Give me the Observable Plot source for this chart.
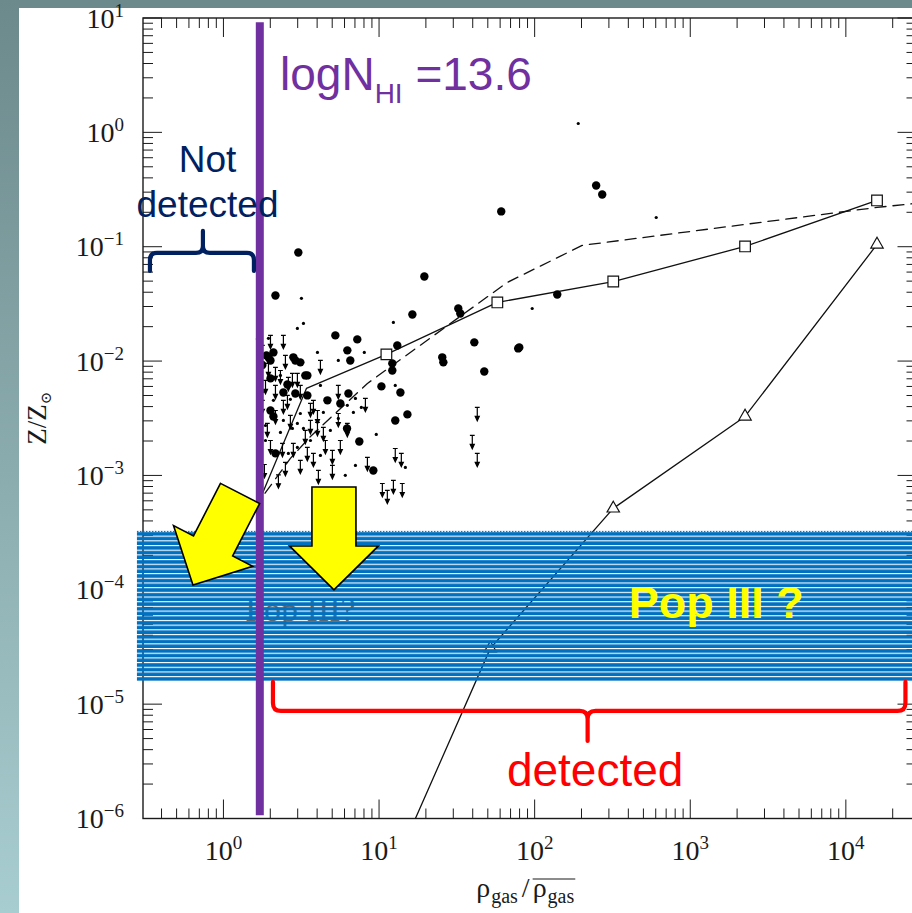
<!DOCTYPE html>
<html>
<head>
<meta charset="utf-8">
<script src="https://cdn.jsdelivr.net/npm/d3@7"></script>
<script src="https://cdn.jsdelivr.net/npm/@observablehq/plot@0.6"></script>
<style>
  html, body { margin: 0; padding: 0; width: 912px; height: 913px; overflow: hidden; background: #ffffff; }
  #band-top { position: absolute; left: 0; top: 0; width: 912px; height: 8px; background: #6c898b; }
  #band-left { position: absolute; left: 0; top: 0; width: 19px; height: 913px; background: linear-gradient(#6c898b, #a8cdd0); }
  #chart { position: absolute; left: 0; top: 0; }
</style>
</head>
<body>
<div id="band-top"></div>
<div id="band-left"></div>
<div id="chart"></div>
<script>
// ---------------------------------------------------------------
// Metallicity vs. gas overdensity. All values are log10:
//   logRho = log10(rho_gas / <rho_gas>),  logZ = log10(Z / Zsun)
// ---------------------------------------------------------------

// Simulation track with open squares (first two vertices carry no marker)
const squareLogRho = [0.202, 0.530, 1.044, 1.757, 2.502, 3.349, 4.197];
const squareLogZ   = [-3.301, -2.235, -1.937, -1.483, -1.300, -0.993, -0.591];

// Simulation track with open triangles
const triangleLogRho = [1.044, 1.712, 2.502, 3.349, 4.197];
const triangleLogZ   = [-6.572, -4.508, -3.284, -2.480, -0.976];

// Dashed model curve
const dashedLogRho = [0.202, 0.254, 0.427, 0.556, 0.922, 1.821, 2.302, 4.197, 4.480];
const dashedLogZ   = [-3.284, -3.170, -2.847, -2.655, -2.191, -1.308, -0.984, -0.652, -0.612];

// Absorbers: measured metallicities (large dots), [logRho, logZ]
const measured = [
  [0.478,-1.046],[1.782,-0.687],[2.392,-0.460],[2.431,-0.539],[2.142,-1.413],[1.898,-1.876],
  [1.288,-1.256],[1.211,-1.588],[1.506,-1.536],[1.519,-1.579],[1.114,-1.859],[1.082,-2.016],
  [1.082,-2.078],[1.609,-1.832],[1.891,-1.885],[1.403,-1.963],[1.410,-2.007],[1.673,-2.087],
  [1.012,-2.217],[1.134,-2.270],[1.179,-2.462],[1.101,-2.515],[0.870,-2.699],[0.960,-2.952],
  [0.857,-1.806],[0.793,-1.902],[0.812,-1.990],[0.800,-2.279],[0.716,-1.771],[0.331,-1.422],
  [0.273,-1.946],[0.318,-1.920],[0.299,-1.990],[0.446,-1.963],[0.491,-2.007],[0.536,-2.121],
  [0.299,-2.147],[0.459,-2.279],[0.536,-2.296],[0.665,-2.339],[0.748,-2.366],[0.299,-2.428],
  [0.331,-2.803],[0.382,-2.270],[0.791,-2.585],[0.247,-2.030],[0.286,-1.963],[0.459,-1.990],
  [0.523,-2.121],[0.318,-2.480],[0.408,-2.200]
];

// Absorbers: weak measurements (small dots)
const weak = [
  [2.277,0.082],[2.778,-0.740],[1.981,-1.536],[1.089,-1.658],[0.902,-1.920],[1.101,-2.209],
  [0.979,-2.637],[0.845,-2.908],[1.166,-2.926],[0.883,-2.401],[0.832,-2.445],[0.793,-2.383],
  [0.845,-2.322],[0.498,-1.447],[0.511,-1.666],[0.472,-1.710],[0.286,-1.797],[0.601,-1.920],
  [0.735,-1.990],[0.318,-2.339],[0.491,-2.454],[0.639,-2.445],[0.735,-2.497],[0.382,-2.515],
  [0.472,-2.541],[0.511,-2.585],[0.440,-2.585],[0.472,-2.751],[0.414,-2.803],[0.267,-2.559],
  [0.363,-2.121],[0.620,-2.209],[0.684,-2.602],[0.780,-2.995],[0.267,-2.690],[0.363,-2.620],
  [0.556,-2.690],[0.620,-2.821],[0.427,-2.330],[0.254,-2.260]
];

// Absorbers: upper limits (downward arrows)
const upperLimits = [
  [0.382,-1.771],[0.620,-1.990],[0.472,-2.104],[0.286,-2.016],[0.331,-2.051],[0.363,-2.078],
  [0.414,-2.139],[0.440,-2.104],[0.735,-2.209],[0.575,-2.339],[0.382,-2.339],[0.556,-2.366],
  [0.601,-2.428],[0.735,-2.454],[0.279,-2.541],[0.601,-2.532],[0.639,-2.576],[0.793,-2.541],
  [0.556,-2.515],[0.376,-2.716],[0.446,-2.716],[0.536,-2.751],[0.575,-2.803],[0.697,-2.777],
  [0.491,-2.864],[0.697,-2.908],[0.909,-2.322],[1.101,-2.760],[1.140,-2.803],[0.922,-2.838],
  [1.628,-2.401],[1.596,-2.646],[1.628,-2.803],[1.018,-3.066],[1.050,-3.126],[1.089,-3.039],
  [1.146,-3.066],[0.222,-1.727],[0.247,-1.859],[0.267,-2.165],[0.247,-2.339],[0.395,-1.946],
  [0.491,-2.209],[0.748,-2.690],[0.299,-1.771],[0.331,-2.209],[0.408,-2.296],[0.331,-2.428],
  [0.427,-2.471],[0.299,-2.690],[0.523,-2.602],[0.652,-2.690],[0.395,-2.882],[0.607,-2.952],
  [0.260,-2.900],[0.350,-2.990]
];

// Tick labels (powers of ten)
const xTickExponents = [0, 1, 2, 3, 4];
const yTickExponents = [-6, -5, -4, -3, -2, -1, 0, 1];

// Annotations
const nhiLimit = {rho: 1.70, zTop: 9.2, zBottom: 1.07e-6, label: "=13.6"};   // logN_HI = 13.6 detection limit
const popIIIBand = {rhoMin: 0.278, rhoMax: 4.0e4, zMin: 1.6e-5, zMax: 3.27e-4};
const notDetectedBrace = {rho1: 0.337, rho2: 1.57, z: 0.0882, rhoTip: 0.738};
const detectedBrace = {rho1: 2.08, rho2: 24150, z: 8.73e-6, rhoTip: 219};
const pointerArrows = [
  {rho: 0.637, z: 1.10e-4, angle: 27.2},   // tip of the tilted arrow
  {rho: 5.13,  z: 9.97e-5, angle: 0}       // tip of the vertical arrow
];
const textNhi = {rho: 2.31, z: 2.34};
const textNotDetected = {rho: 0.784, z: 0.183};
const textPopIII = {rho: 1456, z: 5.78e-5};
const textPopIIIUnder = {rho: 3.10, z: 5.44e-5};
const textDetected = {rho: 243, z: 1.96e-6};

// ---------------------------------------------------------------
const toPoint = ([r, z]) => ({rho: 10 ** r, z: 10 ** z});
const zip = (rs, zs) => rs.map((r, i) => ({rho: 10 ** r, z: 10 ** zs[i]}));

const squareTrack = zip(squareLogRho, squareLogZ);
const triangleTrack = zip(triangleLogRho, triangleLogZ);
const dashedTrack = zip(dashedLogRho, dashedLogZ);

const PURPLE = "#7030a0", NAVY = "#002060", RED = "#ff0000", YELLOW = "#ffff00", BLUE = "#0070c0";
const SANS = "'Liberation Sans', Arial, sans-serif";
const SERIF = "'Liberation Serif', 'DejaVu Serif', serif";

const sup = (e) => (e < 0 ? "\u2212" + (-e) : String(e));

// Upper-limit glyph: bar at the limit, stem and arrowhead pointing down
const upperLimitGlyph = {
  draw(ctx) {
    ctx.moveTo(-2.4, 0); ctx.lineTo(2.4, 0);
    ctx.moveTo(0, 0); ctx.lineTo(0, 10);
    ctx.moveTo(-2, 9); ctx.lineTo(0, 13.3); ctx.lineTo(2, 9); ctx.closePath();
  }
};

// Frame with inward minor/major ticks on all four sides
function frameWithTicks(index, {x, y}, values, dim) {
  const left = dim.marginLeft, right = dim.width - dim.marginRight;
  const top = dim.marginTop, bottom = dim.height - dim.marginBottom;
  const g = d3.create("svg:g");
  const ticks = (domain) => {
    const out = [];
    const [a, b] = domain;
    for (let e = Math.floor(Math.log10(a)); e <= Math.ceil(Math.log10(b)); ++e)
      for (let m = 1; m <= 9; ++m) {
        const v = m * 10 ** e;
        if (v >= a * 0.9999 && v <= b * 1.0001) out.push({v, major: m === 1});
      }
    return out;
  };
  let d = "";
  for (const t of ticks(x.domain())) {
    const px = x(t.v), L = t.major ? 19 : 10;
    d += `M${px},${bottom}v${-L}M${px},${top}v${L}`;
  }
  for (const t of ticks(y.domain())) {
    const py = y(t.v), L = t.major ? 19 : 10;
    d += `M${left},${py}h${L}M${right},${py}h${-L}`;
  }
  g.append("path").attr("d", d).attr("stroke", "#1a1a1a").attr("stroke-width", 1).attr("fill", "none");
  g.append("rect").attr("x", left).attr("y", top).attr("width", right - left).attr("height", bottom - top)
    .attr("fill", "none").attr("stroke", "#1a1a1a").attr("stroke-width", 1.4);
  return g.node();
}

// Power-of-ten tick labels
function tickLabels(index, {x, y}, values, dim) {
  const g = d3.create("svg:g").attr("font-family", SERIF).attr("fill", "#1a1a1a");
  const bottom = dim.height - dim.marginBottom;
  for (const e of xTickExponents) {
    const t = g.append("text").attr("x", x(10 ** e)).attr("y", bottom + 41.5)
      .attr("text-anchor", "middle").attr("font-size", 28);
    t.append("tspan").text("10");
    t.append("tspan").attr("font-size", 19).attr("dy", -11).text(sup(e));
  }
  for (const e of yTickExponents) {
    const t = g.append("text").attr("x", dim.marginLeft - 19).attr("y", y(10 ** e) + 9.5)
      .attr("text-anchor", "end").attr("font-size", 28);
    t.append("tspan").text("10");
    t.append("tspan").attr("font-size", 19).attr("dy", -11).text(sup(e));
  }
  return g.node();
}

// Axis titles
const measureCtx = document.createElement("canvas").getContext("2d");
const textWidth = (s, size) => { measureCtx.font = `${size}px 'Liberation Serif'`; return measureCtx.measureText(s).width; };

function axisTitles(index, scales, values, dim) {
  const g = d3.create("svg:g").attr("font-family", SERIF).attr("fill", "#1a1a1a");
  // y title: Z / Z_sun
  const yt = g.append("text").attr("transform", `translate(46,${(dim.marginTop + dim.height - dim.marginBottom) / 2}) rotate(-90)`)
    .attr("text-anchor", "middle").attr("font-size", 27);
  yt.append("tspan").text("Z/Z");
  yt.append("tspan").attr("font-size", 15).attr("dy", 5).text("\u2299");
  // x title: rho_gas / overline(rho_gas)
  const cx = (dim.marginLeft + dim.width - dim.marginRight) / 2 - 4, base = 897;
  const pieces = [["\u03c1", 28, 0], ["gas", 20, 6], ["/", 28, 0], ["\u03c1", 28, 0], ["gas", 20, 6]];
  const widths = pieces.map(([s, f]) => textWidth(s, f) + (s === "/" ? 6 : 1));
  const total = d3.sum(widths);
  let px = cx - total / 2, denomStart = 0;
  pieces.forEach(([s, f, dy], i) => {
    if (i === 3) denomStart = px;
    g.append("text").attr("x", px + (s === "/" ? 3 : 0)).attr("y", base + dy)
      .attr("text-anchor", "start").attr("font-size", f).text(s);
    px += widths[i];
  });
  g.append("line").attr("x1", denomStart).attr("x2", px).attr("y1", base - 18).attr("y2", base - 18)
    .attr("stroke", "#1a1a1a").attr("stroke-width", 1.2);
  return g.node();
}

// Striped Pop III band (stripes opaque, gaps show what lies underneath)
function popIIIStripes(index, {x, y}) {
  const g = d3.create("svg:g");
  const top = y(popIIIBand.zMax), bottom = y(popIIIBand.zMin);
  const x1 = x(popIIIBand.rhoMin), x2 = x(popIIIBand.rhoMax);
  const period = (bottom - top) / 32;
  const pat = g.append("defs").append("pattern").attr("id", "pop3-stripes")
    .attr("patternUnits", "userSpaceOnUse").attr("x", 0).attr("y", top)
    .attr("width", 10).attr("height", period);
  pat.append("rect").attr("x", 0).attr("y", 1.1).attr("width", 10).attr("height", period - 1.1).attr("fill", BLUE);
  g.append("rect").attr("x", x1).attr("y", top).attr("width", x2 - x1).attr("height", bottom - top)
    .attr("fill", "url(#pop3-stripes)");
  g.append("line").attr("x1", x1).attr("x2", x2).attr("y1", top + 0.5).attr("y2", top + 0.5)
    .attr("stroke", "#555").attr("stroke-width", 1).attr("stroke-dasharray", "1.5,1.5");
  return g.node();
}

// Yellow block arrows pointing into the band
function blockArrows(index, {x, y}) {
  const g = d3.create("svg:g");
  for (const a of pointerArrows) {
    g.append("path").attr("d", "M-22,-103L22,-103L22,-44L44.5,-44L0,0L-44.5,-44L-22,-44Z")
      .attr("transform", `translate(${x(a.rho)},${y(a.z)}) rotate(${a.angle})`)
      .attr("fill", YELLOW).attr("stroke", "#000").attr("stroke-width", 1.6).attr("stroke-linejoin", "miter");
  }
  return g.node();
}

// Curly braces
function bracePath(xa, xb, yBar, endDy, tipX, tipDy, r) {
  const se = Math.sign(endDy), st = Math.sign(tipDy);
  return `M${xa},${yBar + endDy}L${xa},${yBar + se * r}Q${xa},${yBar} ${xa + r},${yBar}` +
    `L${tipX - r},${yBar}Q${tipX},${yBar} ${tipX},${yBar + st * r}L${tipX},${yBar + tipDy}` +
    `M${tipX},${yBar + st * r}Q${tipX},${yBar} ${tipX + r},${yBar}` +
    `L${xb - r},${yBar}Q${xb},${yBar} ${xb},${yBar + se * r}L${xb},${yBar + endDy}`;
}
function braces(index, {x, y}) {
  const g = d3.create("svg:g").attr("fill", "none").attr("stroke-linecap", "round").attr("stroke-linejoin", "round");
  const n = notDetectedBrace;
  g.append("path").attr("d", bracePath(x(n.rho1), x(n.rho2), y(n.z), 18, x(n.rhoTip), -22, 7))
    .attr("stroke", NAVY).attr("stroke-width", 4.2);
  const d = detectedBrace;
  g.append("path").attr("d", bracePath(x(d.rho1), x(d.rho2), y(d.z), -29, x(d.rhoTip), 30, 8))
    .attr("stroke", RED).attr("stroke-width", 4.2);
  return g.node();
}

// logN_HI = 13.6 label
function nhiLabel(index, {x, y}) {
  const t = d3.create("svg:text").attr("x", x(textNhi.rho)).attr("y", y(textNhi.z))
    .attr("text-anchor", "start")
    .attr("fill", PURPLE).attr("font-family", SANS).attr("font-size", 46);
  t.append("tspan").text("logN");
  t.append("tspan").attr("font-size", 28).attr("dy", 13).text("HI");
  t.append("tspan").attr("dy", -13).text(" " + nhiLimit.label);
  return t.node();
}

const W = 925, H = 913;
const chart = Plot.plot({
  width: W,
  height: H,
  marginLeft: 143,
  marginRight: W - 916.5,
  marginTop: 18,
  marginBottom: H - 818.5,
  x: {type: "log", domain: [10 ** -0.517, 10 ** 4.454], axis: null},
  y: {type: "log", domain: [1e-6, 10], axis: null},
  style: {background: "transparent", maxWidth: "none", overflow: "visible"},
  marks: [
    frameWithTicks,
    tickLabels,
    axisTitles,
    Plot.line(dashedTrack, {x: "rho", y: "z", stroke: "#111", strokeWidth: 1.3, strokeDasharray: "11,7", clip: true}),
    Plot.line(squareTrack, {x: "rho", y: "z", stroke: "#111", strokeWidth: 1.3, clip: true}),
    Plot.line(triangleTrack, {x: "rho", y: "z", stroke: "#111", strokeWidth: 1.3, clip: true}),
    Plot.dot(upperLimits.map(toPoint), {x: "rho", y: "z", symbol: upperLimitGlyph, r: 3, fill: "#000", stroke: "#000", strokeWidth: 1.2}),
    Plot.dot(weak.map(toPoint), {x: "rho", y: "z", r: 1.6, fill: "#000"}),
    Plot.dot(measured.map(toPoint), {x: "rho", y: "z", r: 4.2, fill: "#000"}),
    Plot.dot(squareTrack.slice(2), {x: "rho", y: "z", symbol: "square", r: 6, fill: "white", stroke: "#111", strokeWidth: 1.2}),
    Plot.dot(triangleTrack, {x: "rho", y: "z", symbol: "triangle", r: 4.6, fill: "white", stroke: "#111", strokeWidth: 1.2, clip: true}),
    Plot.text([textPopIIIUnder], {x: "rho", y: "z", text: () => "Pop III?", fontFamily: SERIF, fontSize: 34, fill: "#666", lineAnchor: "bottom", textAnchor: "middle"}),
    popIIIStripes,
    Plot.ruleX([nhiLimit], {x: "rho", y1: "zTop", y2: "zBottom", stroke: PURPLE, strokeWidth: 8}),
    blockArrows,
    braces,
    nhiLabel,
    Plot.text([textNotDetected], {x: "rho", y: "z", text: () => "Not\ndetected", fontFamily: SANS, fontSize: 37, lineHeight: 1.22, fill: NAVY, lineAnchor: "bottom", textAnchor: "middle"}),
    Plot.text([textPopIII], {x: "rho", y: "z", text: () => "Pop III ?", fontFamily: SANS, fontSize: 45, fontWeight: "bold", fill: YELLOW, lineAnchor: "bottom", textAnchor: "middle"}),
    Plot.text([textDetected], {x: "rho", y: "z", text: () => "detected", fontFamily: SANS, fontSize: 46, fill: RED, lineAnchor: "bottom", textAnchor: "middle"})
  ]
});
document.getElementById("chart").appendChild(chart);
</script>
</body>
</html>
